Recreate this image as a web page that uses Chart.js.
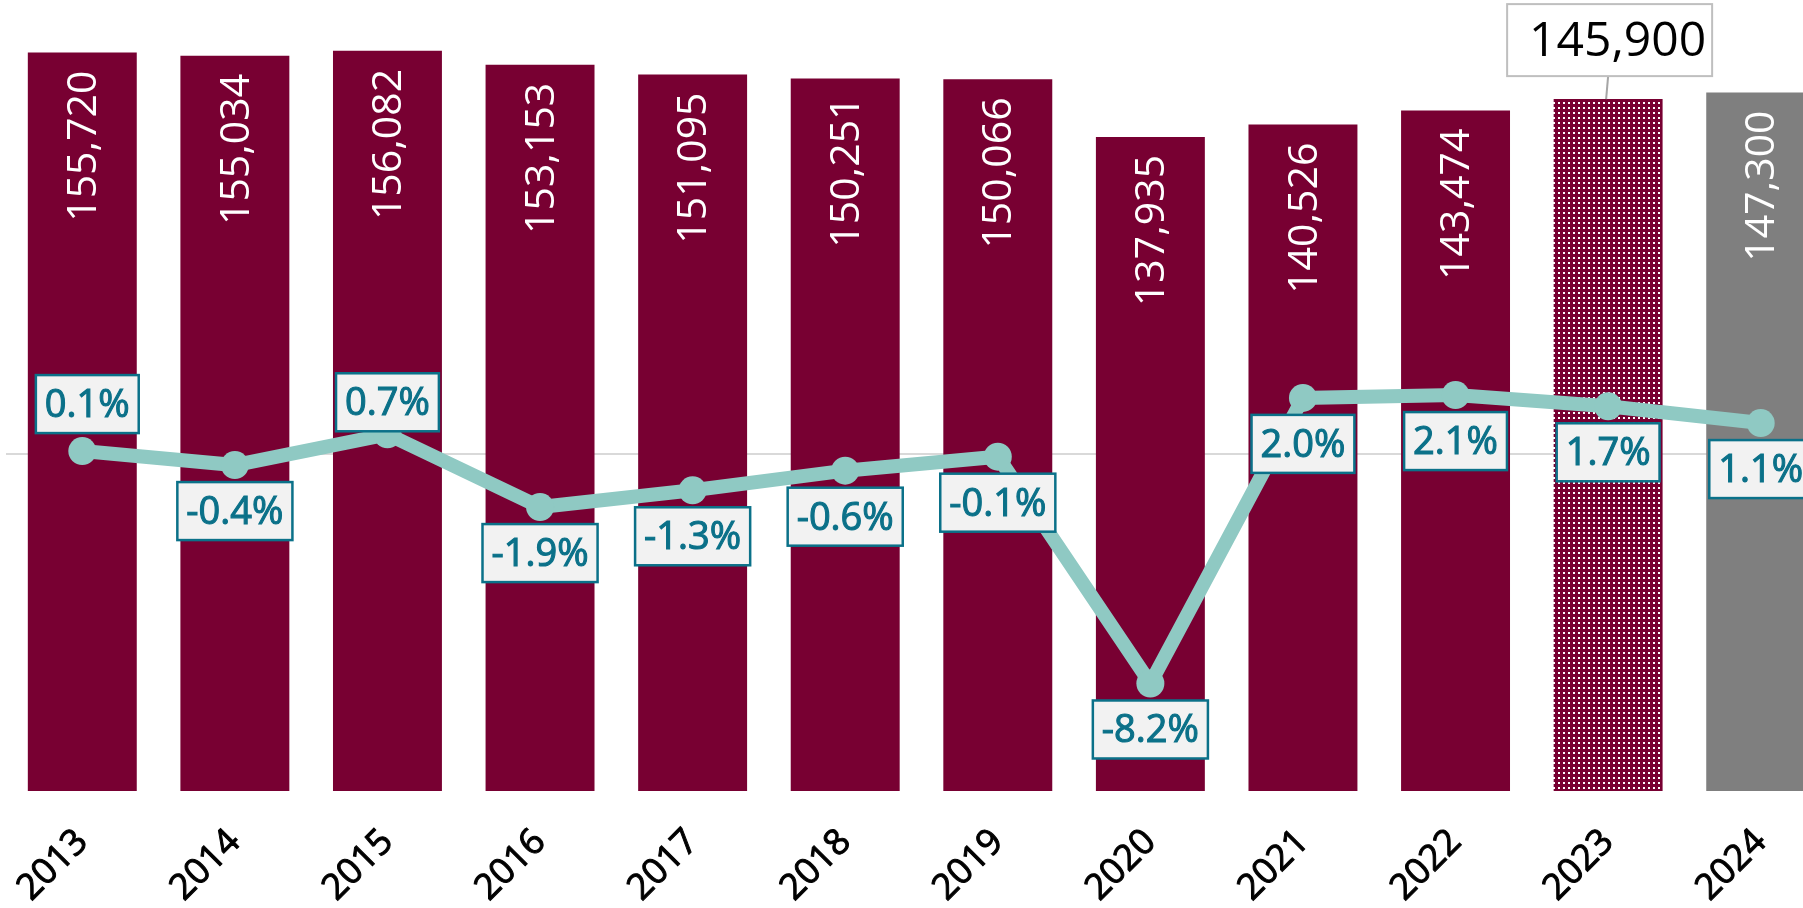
<!DOCTYPE html>
<html>
<head>
<meta charset="utf-8">
<script src="https://cdn.jsdelivr.net/npm/chart.js@4.4.1/dist/chart.umd.min.js"></script>
<style>
    html, body { margin: 0; padding: 0; overflow: hidden; background: #fff; }
    body { position: relative; width: 1803px; height: 908px; }
    /* the point radius forces 14px of padding round the plot, so the canvas is shifted to put the plot where it belongs */
    #wrap { position: absolute; left: -8px; top: -14px; width: 1859px; height: 922px; }
</style>
</head>
<body>
<div id="wrap"><canvas id="chart"></canvas></div>
<script>
// Data
var years = ['2013', '2014', '2015', '2016', '2017', '2018', '2019', '2020', '2021', '2022', '2023', '2024'];
var employees = [155720, 155034, 156082, 153153, 151095, 150251, 150066, 137935, 140526, 143474, 145900, 147300];
var changePct = [0.1, -0.4, 0.7, -1.9, -1.3, -0.6, -0.1, -8.2, 2.0, 2.1, 1.7, 1.1];

var maroon = '#780032';
var grey = '#7f7f7f';
var teal = '#8fc9c3';
var labelBlue = '#0b7189';

Chart.defaults.font.family = '"Open Sans", "Noto Sans", sans-serif';

document.addEventListener('DOMContentLoaded', function() {
    var ctx = document.getElementById('chart').getContext('2d');

    // dotted fill for the 2023 estimate bar
    var tile = document.createElement('canvas');
    tile.width = 5;
    tile.height = 5;
    var t = tile.getContext('2d');
    t.fillStyle = maroon;
    t.fillRect(0, 0, 5, 5);
    t.fillStyle = '#ffffff';
    t.fillRect(1, 1, 2, 2);
    var dots = ctx.createPattern(tile, 'repeat');

    var barColors = years.map(function(y, i) {
        if (i === 10) return dots;
        if (i === 11) return grey;
        return maroon;
    });

    // light grey line at 0 %
    var zeroLine = {
        id: 'zeroLine',
        beforeDatasetsDraw: function(chart) {
            var c = chart.ctx, a = chart.chartArea;
            var y = chart.scales.y2.getPixelForValue(0);
            c.save();
            c.strokeStyle = '#d9d9d9';
            c.lineWidth = 2;
            c.beginPath();
            c.moveTo(a.left, y);
            c.lineTo(a.right, y);
            c.stroke();
            c.restore();
        }
    };

    // value labels inside bars + callout for 2023
    var barLabels = {
        id: 'barLabels',
        afterDatasetsDraw: function(chart) {
            var c = chart.ctx;
            var meta = chart.getDatasetMeta(1);
            c.save();
            meta.data.forEach(function(bar, i) {
                var txt = employees[i].toLocaleString('en-US');
                if (i === 10) {
                    var bx = bar.x - 101, by = bar.y - 95, bw = 205, bh = 72;
                    c.strokeStyle = '#a6a6a6';
                    c.lineWidth = 2;
                    c.beginPath();
                    c.moveTo(bar.x, by + bh);
                    c.lineTo(bar.x - 2, bar.y);
                    c.stroke();
                    c.fillStyle = '#fff';
                    c.fillRect(bx, by, bw, bh);
                    c.strokeStyle = '#bfbfbf';
                    c.strokeRect(bx, by, bw, bh);
                    c.fillStyle = '#000';
                    c.font = '48px "Open Sans", sans-serif';
                    c.textAlign = 'center';
                    c.textBaseline = 'middle';
                    c.fillText(txt, bx + bw / 2 + 8, by + bh / 2 + 2);
                    return;
                }
                c.save();
                c.translate(bar.x, bar.y + 18);
                c.rotate(-Math.PI / 2);
                c.fillStyle = '#fff';
                c.font = '41px "Open Sans", sans-serif';
                c.textAlign = 'right';
                c.textBaseline = 'middle';
                c.fillText(txt, 0, 2);
                c.restore();
            });
            c.restore();
        }
    };

    // boxed percentage labels on the line
    var pctLabels = {
        id: 'pctLabels',
        afterDatasetsDraw: function(chart) {
            var c = chart.ctx;
            var meta = chart.getDatasetMeta(0);
            var above = { 0: -47, 2: -32 };
            c.save();
            c.font = '38px "Open Sans", sans-serif';
            c.textAlign = 'center';
            c.textBaseline = 'middle';
            meta.data.forEach(function(pt, i) {
                var txt = changePct[i].toFixed(1) + '%';
                var w = c.measureText(txt).width + 18;
                var h = 58;
                var dy = above[i] !== undefined ? above[i] : 46;
                var dx = i === 0 ? 5 : 0;
                var cx = pt.x + dx, cy = pt.y + dy;
                c.fillStyle = '#f2f2f2';
                c.fillRect(cx - w / 2, cy - h / 2, w, h);
                c.strokeStyle = labelBlue;
                c.lineWidth = 2.5;
                c.strokeRect(cx - w / 2, cy - h / 2, w, h);
                c.fillStyle = labelBlue;
                c.fillText(txt, cx, cy + 2);
                // a bit heavier, like the semibold original
                c.lineWidth = 1.1;
                c.strokeText(txt, cx, cy + 2);
            });
            c.restore();
        }
    };

    var chart = new Chart(ctx, {
        data: {
            labels: years,
            datasets: [{
                type: 'line',
                data: changePct,
                yAxisID: 'y2',
                borderColor: teal,
                borderWidth: 14,
                pointRadius: 14,
                pointBackgroundColor: teal,
                pointBorderWidth: 0,
                tension: 0,
                order: 1
            }, {
                type: 'bar',
                data: employees,
                yAxisID: 'y',
                backgroundColor: barColors,
                barPercentage: 0.714,
                categoryPercentage: 1,
                order: 2
            }]
        },
        options: {
            responsive: true,
            maintainAspectRatio: false,
            animation: false,
            layout: { padding: 0 },
            plugins: {
                legend: { display: false },
                tooltip: { enabled: false }
            },
            scales: {
                x: {
                    grid: { display: false, drawTicks: false },
                    border: { display: false },
                    ticks: {
                        color: '#000',
                        font: { size: 36 },
                        textStrokeColor: '#000',
                        textStrokeWidth: 1,
                        minRotation: 45,
                        maxRotation: 45,
                        padding: 30
                    },
                    afterFit: function(s) { s.height = 117; }
                },
                y: {
                    display: false,
                    min: 0,
                    max: 166800
                },
                y2: {
                    display: false,
                    min: -12.04,
                    max: 16.21
                }
            }
        },
        plugins: [zeroLine, barLabels, pctLabels]
    });
});
</script>
</body>
</html>
